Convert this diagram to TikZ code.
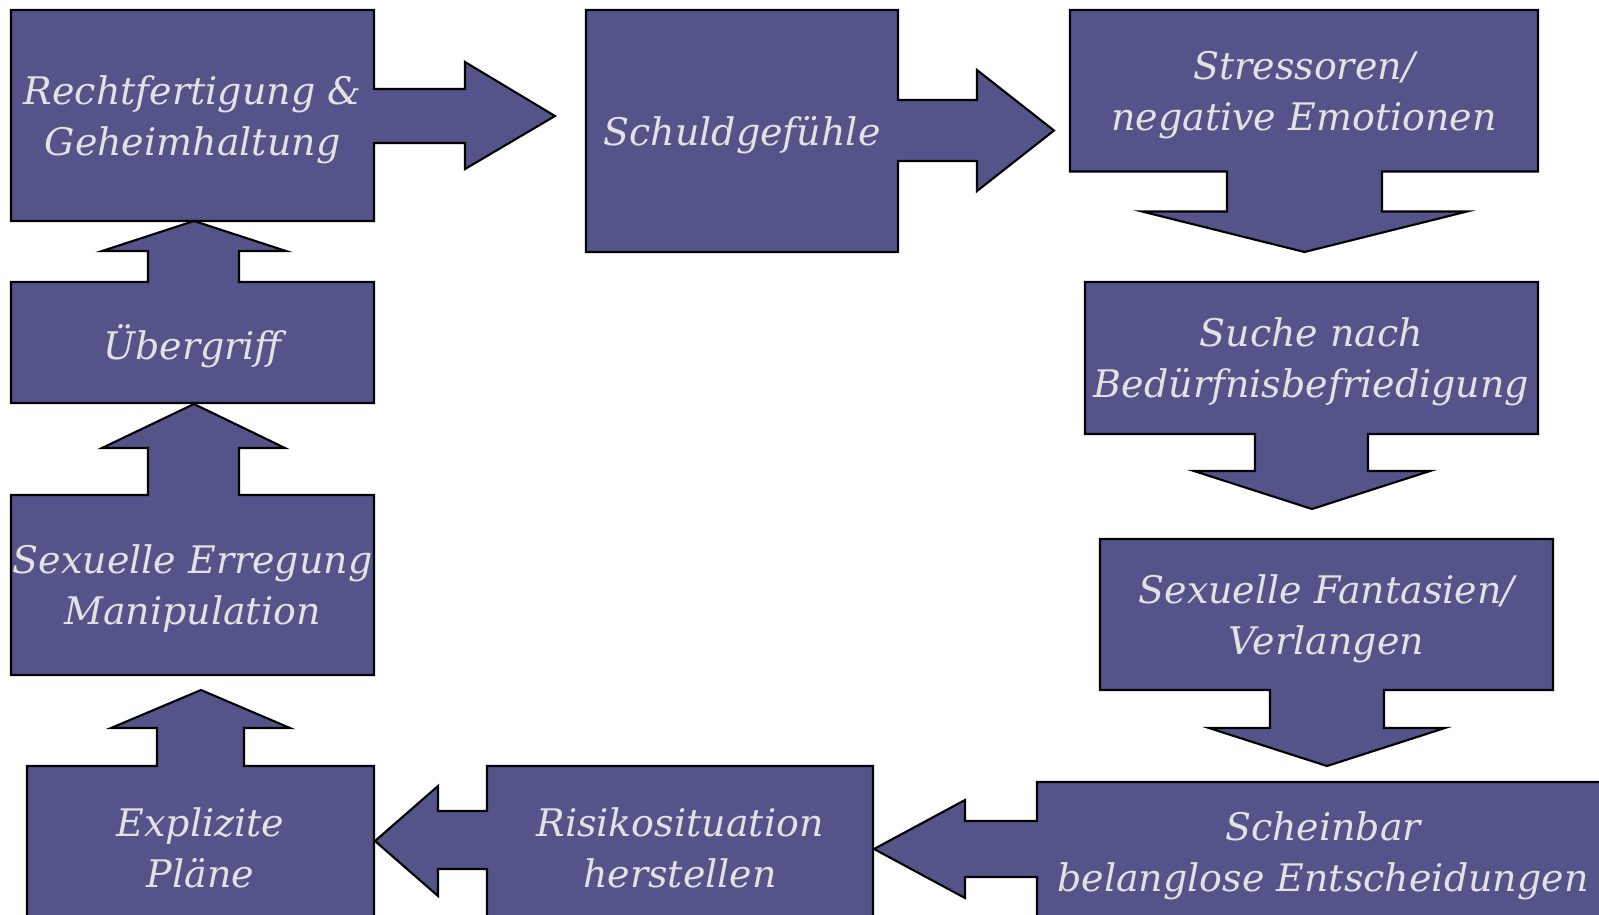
\documentclass[tikz,border=0pt]{standalone}
\usepackage{fontspec}
\setmainfont{DejaVu Serif}
\definecolor{boxblue}{RGB}{84,84,138}
\definecolor{boxtext}{RGB}{226,226,226}
\tikzset{
  callout/.style={draw=black, fill=boxblue, line width=0.6pt, line join=miter},
  boxlabel/.style={text=boxtext, align=center, inner sep=0pt, yshift=-0.04cm,
    font=\itshape\fontsize{10.8}{14.5}\selectfont}
}
\begin{document}
\begin{tikzpicture}[x=0.01cm, y=-0.01cm]
        \useasboundingbox (0,0) rectangle (1599,914);
        \clip (0,0) rectangle (1599,914);
        \begin{scope}
            \draw[callout] (11,10) -- (374,10) -- (374,89) -- (465,89) -- (465,62) -- (555,116) -- (465,169) -- (465,143) -- (374,143) -- (374,221) -- (11,221) -- cycle; % rechtfertigung
            \draw[callout] (586,10) -- (898,10) -- (898,100) -- (977,100) -- (977,70) -- (1054,130.5) -- (977,191) -- (977,161) -- (898,161) -- (898,252) -- (586,252) -- cycle; % schuldgefuehle
            \draw[callout] (1070,10) -- (1538,10) -- (1538,171.5) -- (1382,171.5) -- (1382,211.5) -- (1467,211.5) -- (1304.5,252) -- (1142,211.5) -- (1227,211.5) -- (1227,171.5) -- (1070,171.5) -- cycle; % stressoren
            \draw[callout] (1085,282) -- (1538,282) -- (1538,434) -- (1368,434) -- (1368,471) -- (1430,471) -- (1312,509) -- (1194,471) -- (1255,471) -- (1255,434) -- (1085,434) -- cycle; % suche
            \draw[callout] (1100,539) -- (1553,539) -- (1553,690) -- (1384,690) -- (1384,728) -- (1445,728) -- (1327,766) -- (1209,728) -- (1270,728) -- (1270,690) -- (1100,690) -- cycle; % fantasien
            \draw[callout] (1037,782) -- (1609,782) -- (1609,921) -- (1037,921) -- (1037,877) -- (965,877) -- (965,898) -- (874,849) -- (965,800) -- (965,821) -- (1037,821) -- cycle; % scheinbar
            \draw[callout] (487,766) -- (873,766) -- (873,921) -- (487,921) -- (487,869) -- (438,869) -- (438,896) -- (375,841) -- (438,786) -- (438,811) -- (487,811) -- cycle; % risikosituation
            \draw[callout] (27,766) -- (157,766) -- (157,728) -- (111,728) -- (201,690) -- (290,728) -- (244,728) -- (244,766) -- (374,766) -- (374,921) -- (27,921) -- cycle; % plaene
            \draw[callout] (11,495) -- (148,495) -- (148,448) -- (102,448) -- (194,404) -- (285,448) -- (239,448) -- (239,495) -- (374,495) -- (374,675) -- (11,675) -- cycle; % erregung
            \draw[callout] (11,282) -- (148,282) -- (148,251) -- (102,251) -- (194,221) -- (286,251) -- (239,251) -- (239,282) -- (374,282) -- (374,403) -- (11,403) -- cycle; % uebergriff

            \node[boxlabel] (rf) at (192.5,116) {Rechtfertigung \&\\ Geheimhaltung};
            \node[boxlabel] (schuld) at (742,131) {Schuldgefühle};
            \node[boxlabel] (stress) at (1304,91) {Stressoren/\\ negative Emotionen};
            \node[boxlabel] (suche) at (1311.5,358) {Suche nach\\ Bedürfnisbefriedigung};
            \node[boxlabel] (fantasie) at (1326.5,614.5) {Sexuelle Fantasien/\\ Verlangen};
            \node[boxlabel] (schein) at (1323,851.5) {Scheinbar\\ belanglose Entscheidungen};
            \node[boxlabel] (risiko) at (680,843.5) {Risikosituation\\ herstellen};
            \node[boxlabel] (plaene) at (200.5,843.5) {Explizite\\ Pläne};
            \node[boxlabel] (erregung) at (192.5,585) {Sexuelle Erregung\\ Manipulation};
            \node[boxlabel] (ueber) at (192.5,342.5) {Übergriff};
        \end{scope}
\end{tikzpicture}
\end{document}
